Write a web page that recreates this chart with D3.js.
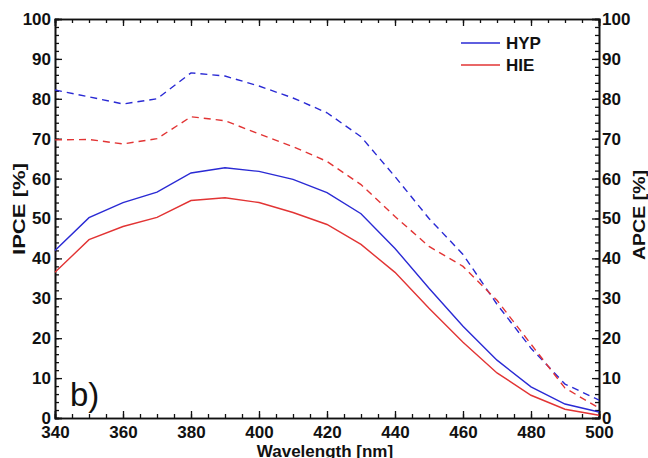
<!DOCTYPE html>
<html>
<head>
<meta charset="utf-8">
<script src="https://cdn.jsdelivr.net/npm/d3@7"></script>
<style>
body { margin: 0; background: #fff; }
svg text { font-family: "Liberation Sans", Arial, sans-serif; }
.tick text { font-weight: bold; font-size: 17px; fill: #111; }
.axis path, .axis line { stroke: #111; }
</style>
</head>
<body>
<svg id="chart" width="648" height="458"></svg>
<script>
var width = 648, height = 458;
var margin = { left: 55, right: 49, top: 19, bottom: 40 };

var wavelength = [340,350,360,370,380,390,400,410,420,430,440,450,460,470,480,490,500];
var hypIpce = [42,50.2,54,56.6,61.4,62.7,61.8,59.8,56.5,51.2,42.5,32.5,23,14.5,7.8,3.5,1.5];
var hieIpce = [36.5,44.7,48,50.3,54.5,55.2,54,51.5,48.5,43.5,36.5,27.5,19,11.3,5.7,2.2,0.7];
var hypApce = [82.2,80.5,78.7,80,86.5,85.7,83.2,80.2,76.5,70.5,60.5,50,41,28.5,17.5,8.5,4.5];
var hieApce = [69.7,69.8,68.7,70,75.5,74.5,71.2,68,64.3,58.5,50.5,43,38,29.5,18.5,7.5,2.5];
var xTicks = [340,360,380,400,420,440,460,480,500];
var yTicks = [0,10,20,30,40,50,60,70,80,90,100];

var series = [
	{ name: "HYP", values: hypApce, color: "#2a2ad4", dash: "7,5" },
	{ name: "HIE", values: hieApce, color: "#e23434", dash: "7,5" },
	{ name: "HYP", values: hypIpce, color: "#2a2ad4", dash: null },
	{ name: "HIE", values: hieIpce, color: "#e23434", dash: null }
];

var svg = d3.select("#chart");
var x0 = margin.left, x1 = width - margin.right;
var y0 = height - margin.bottom, y1 = margin.top;

var x = d3.scaleLinear().domain([340,500]).range([x0,x1]);
var y = d3.scaleLinear().domain([0,100]).range([y0,y1]);

function addAxis(axis, tx, ty) {
	return svg.append("g").attr("class","axis")
	.attr("transform","translate("+[tx,ty]+")")
	.call(axis);
}

// minor ticks first, then major
var minorX = d3.range(340,501,5);
var minorY = d3.range(0,101,2);

addAxis(d3.axisBottom(x).tickValues(minorX).tickSize(-4).tickFormat(""), 0, y0);
addAxis(d3.axisTop(x).tickValues(minorX).tickSize(-4).tickFormat(""), 0, y1);
addAxis(d3.axisLeft(y).tickValues(minorY).tickSize(-4).tickFormat(""), x0, 0);
addAxis(d3.axisRight(y).tickValues(minorY).tickSize(-4).tickFormat(""), x1, 0);

addAxis(d3.axisBottom(x).tickValues(xTicks).tickSize(-7).tickPadding(11), 0, y0)
.selectAll(".tick text").attr("dy","0.55em");
addAxis(d3.axisTop(x).tickValues(xTicks).tickSize(-7).tickFormat(""), 0, y1);
addAxis(d3.axisLeft(y).tickValues(yTicks).tickSize(-7).tickPadding(4), x0, 0);
addAxis(d3.axisRight(y).tickValues(yTicks).tickSize(-7).tickPadding(2), x1, 0)
.selectAll(".tick text").attr("x", 3);

svg.selectAll(".axis path").attr("stroke-width", 1.6);
svg.selectAll(".axis line").attr("stroke-width", 1.3);

var line = d3.line()
.x(function(d, i) { return x(wavelength[i]); })
.y(function(d) { return y(d); });

svg.append("g").selectAll("path").data(series).enter()
.append("path")
.attr("d", function(d) { return line(d.values); })
.attr("fill","none")
.attr("stroke", function(d) { return d.color; })
.attr("stroke-width", 1.4)
.attr("stroke-dasharray", function(d) { return d.dash; });

// legend
var legend = svg.append("g").attr("transform","translate(461,43)");
var leg = legend.selectAll("g").data(series.slice(2)).enter()
.append("g")
.attr("transform", function(d, i) { return "translate(0,"+(i*22)+")"; });
leg.append("line")
.attr("x1",0).attr("x2",39)
.attr("stroke", function(d) { return d.color; })
.attr("stroke-width", 1.4);
leg.append("text")
.attr("x",45).attr("y",6)
.attr("font-size",17).attr("font-weight","bold").attr("fill","#111")
.text(function(d) { return d.name; });

svg.append("text")
.attr("x",70).attr("y",406)
.attr("font-size",33).attr("fill","#111")
.text("b)");

svg.append("text")
.attr("x",(x0+x1)/2 - 2).attr("y",457)
.attr("text-anchor","middle")
.attr("font-size",17).attr("font-weight","bold").attr("fill","#111")
.text("Wavelength [nm]");

svg.append("text")
.attr("transform","translate(25,209) rotate(-90)")
.attr("text-anchor","middle")
.attr("font-size",17).attr("font-weight","bold").attr("fill","#111")
.attr("textLength",92).attr("lengthAdjust","spacingAndGlyphs")
.text("IPCE [%]");

svg.append("text")
.attr("transform","translate(645,215) rotate(-90)")
.attr("text-anchor","middle")
.attr("font-size",17).attr("font-weight","bold").attr("fill","#111")
.attr("textLength",90).attr("lengthAdjust","spacingAndGlyphs")
.text("APCE [%]");
</script>
</body>
</html>
